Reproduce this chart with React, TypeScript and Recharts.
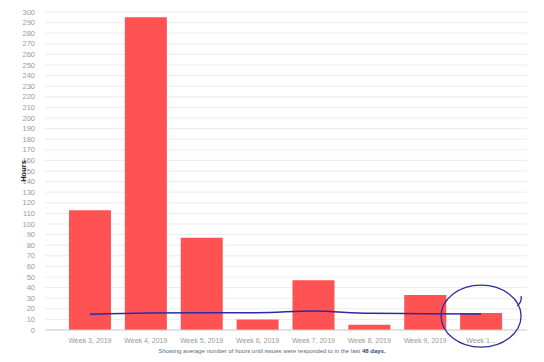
import { BarChart, Bar, Line, XAxis, YAxis, CartesianGrid, ReferenceDot } from 'recharts';

const weeks = [
  'Week 3, 2019',
  'Week 4, 2019',
  'Week 5, 2019',
  'Week 6, 2019',
  'Week 7, 2019',
  'Week 8, 2019',
  'Week 9, 2019',
  'Week 10, 2019',
];
const hours = [113, 295, 87, 10, 47, 5, 33, 16];
// hand-drawn annotation line
const penLine = [14.8, 16, 16.3, 16.3, 18, 15.7, 15.4, 15];
const yTicks = [
  0, 10, 20, 30, 40, 50, 60, 70, 80, 90, 100, 110, 120, 130, 140, 150, 160, 170, 180, 190, 200,
  210, 220, 230, 240, 250, 260, 270, 280, 290, 300,
];

const data = weeks.map((w, i) => ({ week: w, hours: hours[i], pen: penLine[i] }));

const FONT = '"Liberation Sans", Arial, sans-serif';
const PEN = '#2d2aa6';

const shortLabel = (s: string) => (s.length > 12 ? s.slice(0, 6) + '...' : s);

function PenCircle(props: any) {
  const { cx, cy } = props;
  if (cx == null || cy == null) return <g />;
  return (
    <g>
      <ellipse cx={cx} cy={cy + 2} rx={40} ry={31} fill="none" stroke={PEN} strokeWidth={1.3} />
      <path
        d={`M ${cx + 36} ${cy - 8} Q ${cx + 41} ${cy - 12} ${cx + 40} ${cy - 18}`}
        fill="none"
        stroke={PEN}
        strokeWidth={1.3}
      />
    </g>
  );
}

export default function App() {
  return (
    <div style={{ position: 'absolute', left: 0, top: 0, width: 544, height: 362, background: '#fff', fontFamily: FONT }}>
      <BarChart
        width={544}
        height={362}
        data={data}
        margin={{ top: 12, right: 17, bottom: 18, left: 0 }}
        barCategoryGap="12.5%"
      >
        <CartesianGrid vertical={false} stroke="#ececec" />
        <XAxis
          dataKey="week"
          height={14}
          padding={{ left: 17, right: 18 }}
          tickLine={false}
          axisLine={{ stroke: '#cfcfcf' }}
          tick={{ fontSize: 7, fill: '#999', fontFamily: FONT }}
          tickFormatter={shortLabel}
          tickMargin={2}
          interval={0}
        />
        <YAxis
          width={45}
          domain={[0, 300]}
          ticks={yTicks}
          interval={0}
          tickLine={false}
          axisLine={false}
          tickMargin={4}
          tick={{ fontSize: 7.5, fill: '#999', fontFamily: FONT }}
          label={{
            value: 'Hours',
            angle: -90,
            position: 'center',
            dx: 1,
            style: { fontSize: 7.5, fontWeight: 'bold', fill: '#222', fontFamily: FONT },
          }}
        />
        <Bar dataKey="hours" fill="#ff5252" isAnimationActive={false} />
        <Line
          dataKey="pen"
          type="monotone"
          stroke={PEN}
          strokeWidth={1.5}
          dot={false}
          isAnimationActive={false}
        />
        <ReferenceDot x="Week 10, 2019" y={15} shape={PenCircle} />
      </BarChart>
      <div
        style={{
          position: 'absolute',
          left: 0,
          width: 544,
          top: 348,
          textAlign: 'center',
          fontSize: 6,
          color: '#4d6a8a',
        }}
      >
        Showing average number of hours until issues were responded to in the last{' '}
        <b style={{ color: '#2f4a6b' }}>48 days.</b>
      </div>
    </div>
  );
}
